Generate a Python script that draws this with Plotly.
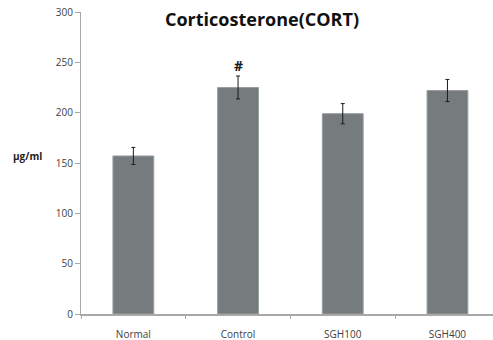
import plotly.graph_objects as go

groups = ["Normal", "Control", "SGH100", "SGH400"]
cort_mean = [157, 225, 199, 222]
cort_err = [8.5, 11.4, 10, 11]
y_ticks = [0, 50, 100, 150, 200, 250, 300]

fig = go.Figure()
fig.add_trace(go.Bar(
    x=groups,
    y=cort_mean,
    width=0.39,
    marker=dict(color="#767b7e", line=dict(color="#9a9ea0", width=1)),
    error_y=dict(type="data", array=cort_err, visible=True,
                 color="#1a1a1a", thickness=1, width=2),
    showlegend=False,
))

# significance mark above the Control bar
fig.add_annotation(x="Control", y=247, text="<b>#</b>", showarrow=False,
                   font=dict(family="Open Sans, Arial", size=14, color="#1a1a1a"))

fig.update_layout(
    width=493, height=340,
    margin=dict(l=81, r=0, t=12, b=26),
    paper_bgcolor="white", plot_bgcolor="white",
    title=dict(text="<b>Corticosterone(CORT)</b>", x=262 / 493, xanchor="center",
               y=1 - 20 / 340, yanchor="middle",
               font=dict(family="Open Sans, Arial", size=18, color="#111111")),
    font=dict(family="Open Sans, Arial", color="#404040"),
)

fig.update_xaxes(
    range=[-0.5, 3.435],
    showline=True, linecolor="#a8a8a8", linewidth=1.5,
    ticks="outside", tickson="boundaries", ticklen=3, tickcolor="#a8a8a8",
    tickfont=dict(size=10, color="#404040"),
    ticklabelstandoff=10,
    showgrid=False,
)
fig.update_yaxes(
    range=[0, 300], tickvals=y_ticks,
    showline=True, linecolor="#a8a8a8", linewidth=1,
    ticks="outside", ticklen=5, tickcolor="#a8a8a8",
    tickfont=dict(size=10, color="#404040"),
    showgrid=False, zeroline=False,
)

fig.add_annotation(xref="paper", yref="paper", x=-81 / 412 + 27 / 412, y=(314 - 156) / 302,
                   text="<b>μg/ml</b>", showarrow=False, xanchor="center", yanchor="middle",
                   font=dict(family="Open Sans, Arial", size=10, color="#222222"))

fig.write_html("out.html")
